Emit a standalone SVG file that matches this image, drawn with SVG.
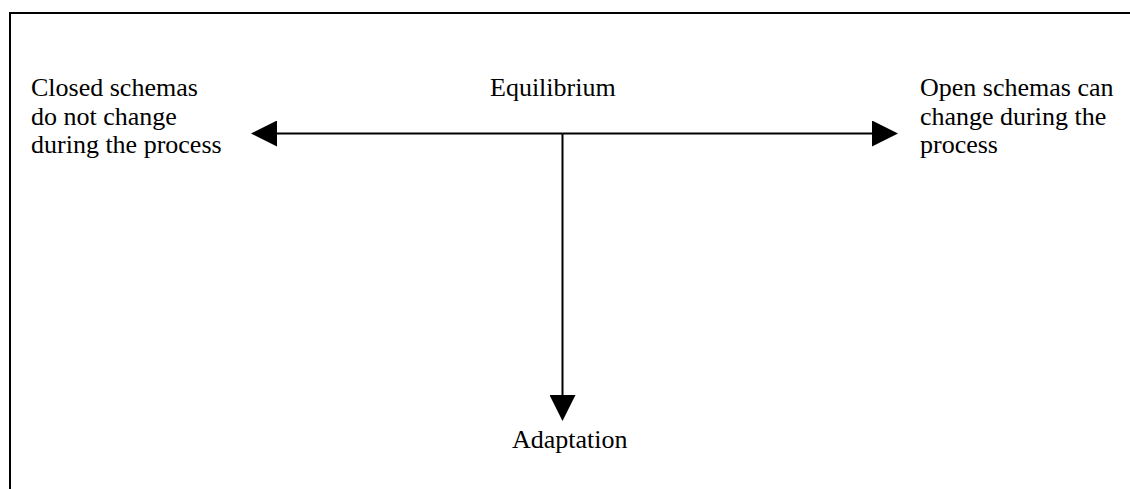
<svg xmlns="http://www.w3.org/2000/svg" width="1130" height="489" viewBox="0 0 1130 489">
<style>
  .t { font-family: "Liberation Serif", "Times New Roman", serif; font-size: 26px; fill: #000; }
  .ln { stroke: #000; stroke-width: 2; fill: none; }
</style>
<defs>
  <marker id="ah" markerWidth="26" markerHeight="26" refX="0" refY="13" orient="auto" markerUnits="userSpaceOnUse">
    <path d="M0,0 L26,13 L0,26 Z" fill="#000"/>
  </marker>
</defs>
<rect width="1130" height="489" fill="#fff"/>
<g id="frame">
  <path class="ln" d="M10,489 V13 H1130"/>
</g>
<g id="connectors">
  <line class="ln" x1="562.5" y1="133.5" x2="277" y2="133.5" marker-end="url(#ah)"/>
  <line class="ln" x1="562.5" y1="133.5" x2="872" y2="133.5" marker-end="url(#ah)"/>
  <line class="ln" x1="562.5" y1="133.5" x2="562.5" y2="395" marker-end="url(#ah)"/>
</g>
<g id="closed">
  <text class="t" x="31" y="96">Closed schemas</text>
  <text class="t" x="31" y="125">do not change</text>
  <text class="t" x="31" y="153">during the process</text>
</g>
<g id="equilibrium">
  <text class="t" x="490" y="96">Equilibrium</text>
</g>
<g id="open">
  <text class="t" x="920" y="96">Open schemas can</text>
  <text class="t" x="920" y="125">change during the</text>
  <text class="t" x="920" y="153">process</text>
</g>
<g id="adaptation">
  <text class="t" x="512" y="448">Adaptation</text>
</g>
</svg>
